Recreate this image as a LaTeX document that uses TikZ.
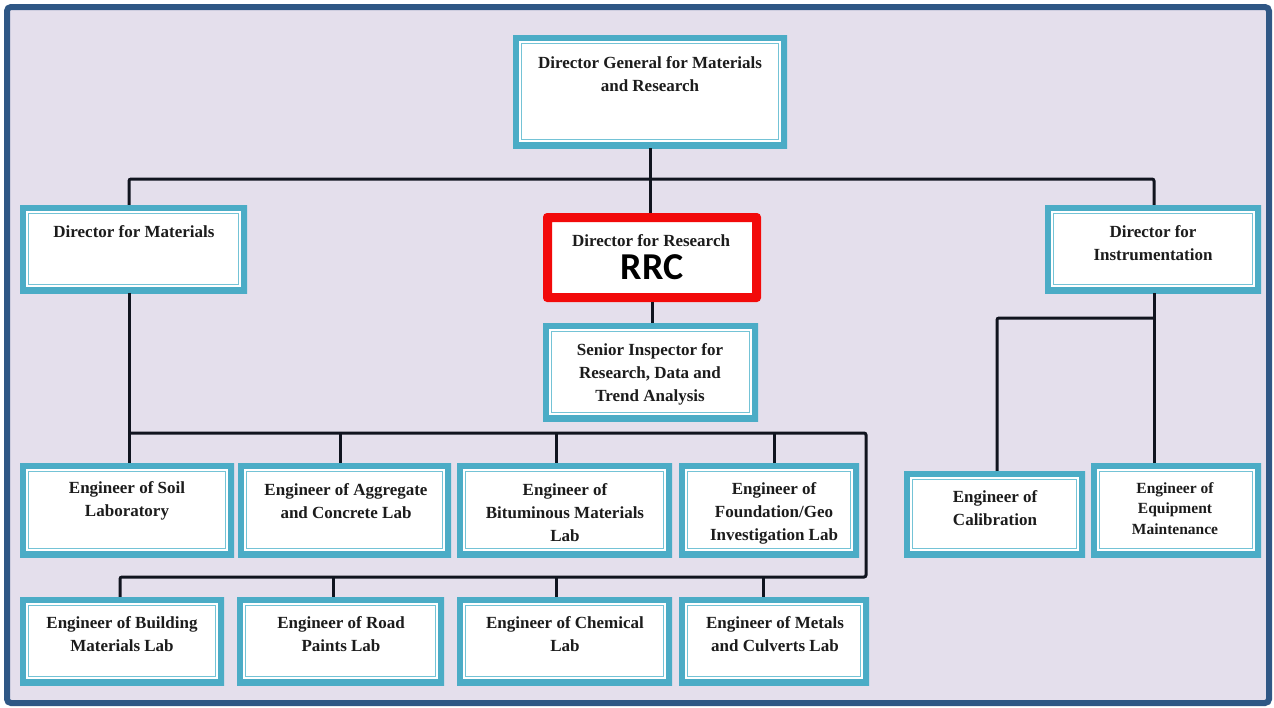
\documentclass[tikz,border=0pt]{standalone}
\usepackage{fontspec}
\setmainfont{Liberation Serif}
\newfontfamily\rrcfont{Carlito}
\usetikzlibrary{fit,calc}

\definecolor{frameblue}{HTML}{2F5785}
\definecolor{lavender}{HTML}{E4DFEC}
\definecolor{boxcyan}{HTML}{4BACC6}
\definecolor{boxcyanlight}{HTML}{74C3D6}
\definecolor{rrcred}{HTML}{F20A0A}
\definecolor{wire}{HTML}{10141F}
\definecolor{textdark}{HTML}{1C1C1C}

\begin{document}
\begin{tikzpicture}[x=1pt,y=-1pt,
  orgbox/.style={draw=none, fill=white, inner sep=0pt,
    path picture={
      \draw[boxcyan, line width=12pt]
        (path picture bounding box.north west) rectangle (path picture bounding box.south east);
      \draw[boxcyanlight, line width=1.5pt]
        ([xshift=8.5pt,yshift=-8.5pt]path picture bounding box.north west)
        rectangle ([xshift=-8.5pt,yshift=8.5pt]path picture bounding box.south east);
    }},
  redbox/.style={draw=none, fill=white, inner sep=0pt, rounded corners=4pt,
    path picture={
      \draw[rrcred, line width=18pt, rounded corners=4pt]
        (path picture bounding box.north west) rectangle (path picture bounding box.south east);
    }},
  lbl/.style={font=\bfseries\fontsize{17}{23}\selectfont, text=textdark, align=center, inner sep=0pt},
  lblsmall/.style={font=\bfseries\fontsize{15.5}{20.5}\selectfont, text=textdark, align=center, inner sep=0pt},
  wire/.style={draw=wire, line width=3pt, rounded corners=2pt}
]
% page and frame
\useasboundingbox (0,0) rectangle (1274,707);
\fill[white] (0,0) rectangle (1274,707);
\node[fit={(7,7) (1269,703)}, inner sep=0pt, draw=frameblue, line width=6pt,
      fill=lavender, rounded corners=4pt] (frame) {};

% junction points of the connector buses
\coordinate (top-l) at (129,179);
\coordinate (top-r) at (1154,179);
\coordinate (bus-l) at (129,433);
\coordinate (bus-r) at (866,433);
\coordinate (bus2-r) at (866,577);
\coordinate (bus2-l) at (120,577);
\coordinate (d-agg) at (340,433);
\coordinate (d-bit) at (556,433);
\coordinate (d-fnd) at (774,433);
\coordinate (d-road) at (333,577);
\coordinate (d-chem) at (556,577);
\coordinate (d-met) at (763,577);
\coordinate (ins-r) at (1154,318);
\coordinate (ins-l) at (997,318);

% boxes
\node[orgbox, fit={(513,35) (787,148)}] (dg) {};
\node[orgbox, fit={(20,205) (247,293)}] (dmat) {};
\node[redbox, fit={(543,213) (761,302)}] (rrc) {};
\node[orgbox, fit={(1045,205) (1261,293)}] (dins) {};
\node[orgbox, fit={(543,323) (758,421)}] (sen) {};
\node[orgbox, fit={(20,463) (234,557)}] (soil) {};
\node[orgbox, fit={(238,463) (451,557)}] (agg) {};
\node[orgbox, fit={(457,463) (672,557)}] (bit) {};
\node[orgbox, fit={(679,463) (859,557)}] (fnd) {};
\node[orgbox, fit={(20,597) (224,685)}] (build) {};
\node[orgbox, fit={(237,597) (444,685)}] (road) {};
\node[orgbox, fit={(457,597) (672,685)}] (chem) {};
\node[orgbox, fit={(679,597) (869,685)}] (met) {};
\node[orgbox, fit={(904,471) (1085,557)}] (cal) {};
\node[orgbox, fit={(1091,463) (1261,557)}] (equ) {};

% connectors
\draw[wire] (dg.south) -- (dg.south |- rrc.north);
\draw[wire] (top-l |- dmat.north) -- (top-l) -- (top-r) -- (top-r |- dins.north);
\draw[wire] (rrc.south) -- (rrc.south |- sen.north);
\draw[wire] (bus-l |- dmat.south) -- (bus-l |- soil.north);
\draw[wire] (bus-l) -- (bus-r) -- (bus2-r) -- (bus2-l) -- (bus2-l |- build.north);
\draw[wire] (d-agg) -- (d-agg |- agg.north);
\draw[wire] (d-bit) -- (d-bit |- bit.north);
\draw[wire] (d-fnd) -- (d-fnd |- fnd.north);
\draw[wire] (d-road) -- (d-road |- road.north);
\draw[wire] (d-chem) -- (d-chem |- chem.north);
\draw[wire] (d-met) -- (d-met |- met.north);
\draw[wire] (ins-r |- dins.south) -- (ins-r |- equ.north);
\draw[wire] (ins-r) -- (ins-l) -- (ins-l |- cal.north);

% labels
\node[lbl] (t-dg) at (650,74) {Director General for Materials\\and Research};
\node[lbl] (t-dmat) at (134,232) {Director for Materials};
\node[lbl] (t-rrc1) at (651,241) {Director for Research};
\node[font=\rrcfont\bfseries\fontsize{38}{40}\selectfont, text=black, inner sep=0pt] (t-rrc2) at (652,267) {RRC};
\node[lbl] (t-dins) at (1153,243.5) {Director for\\Instrumentation};
\node[lbl] (t-sen) at (650,374) {Senior Inspector for\\Research, Data and\\Trend Analysis};
\node[lbl] (t-soil) at (127,501) {Engineer of Soil\\Laboratory};
\node[lbl] (t-agg) at (346,501) {Engineer of Aggregate\\and Concrete Lab};
\node[lbl] (t-bit) at (565,513) {Engineer of\\Bituminous Materials\\Lab};
\node[lbl] (t-fnd) at (774,513) {Engineer of\\Foundation/Geo\\Investigation Lab};
\node[lbl] (t-build) at (122,634.5) {Engineer of Building\\Materials Lab};
\node[lbl] (t-road) at (341,634.5) {Engineer of Road\\Paints Lab};
\node[lbl] (t-chem) at (565,634.5) {Engineer of Chemical\\Lab};
\node[lbl] (t-met) at (775,634.5) {Engineer of Metals\\and Culverts Lab};
\node[lbl] (t-cal) at (995,508.5) {Engineer of\\Calibration};
\node[lblsmall] (t-equ) at (1175,508.5) {Engineer of\\Equipment\\Maintenance};
\end{tikzpicture}
\end{document}
